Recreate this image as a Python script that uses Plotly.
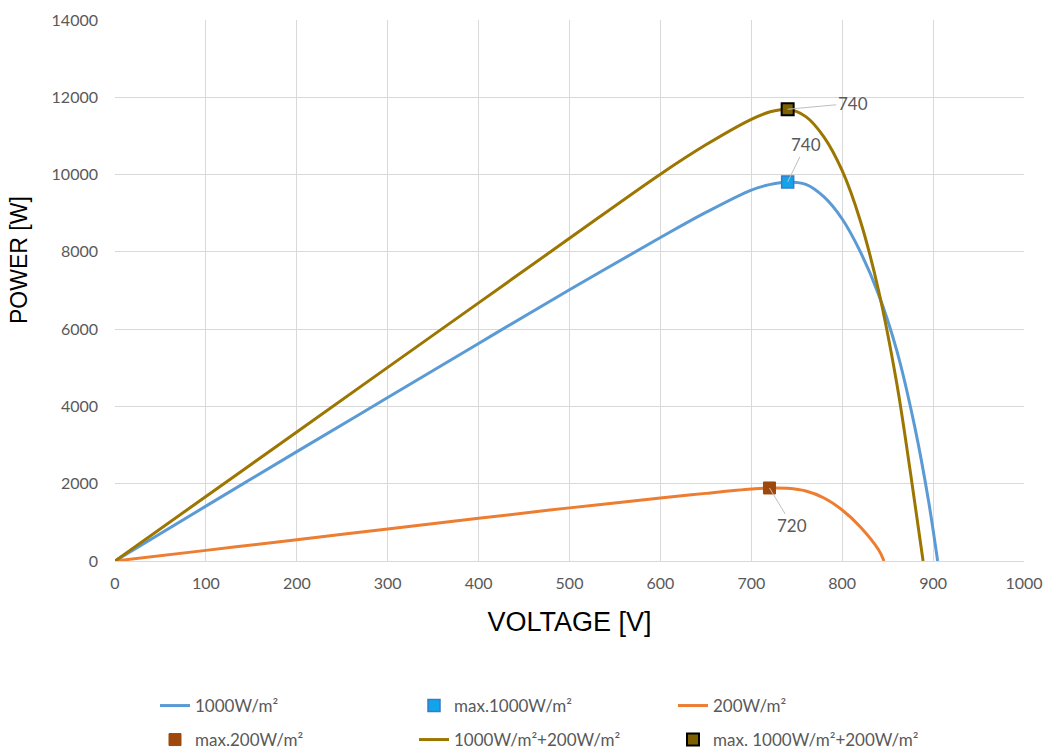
import plotly.graph_objects as go

# ---- data ----
v_1000 = [0, 100, 200, 300, 400, 500, 600, 650, 700, 720, 740, 760, 780, 800, 820, 840, 860, 880, 895, 905]
p_1000 = [0, 1420, 2830, 4230, 5630, 7020, 8370, 9020, 9600, 9740, 9810, 9745, 9420, 8850, 8000, 6900, 5450, 3450, 1550, 0]

v_200 = [0, 100, 200, 300, 400, 500, 600, 650, 700, 720, 740, 760, 780, 800, 820, 840, 846]
p_200 = [0, 275, 550, 830, 1105, 1375, 1630, 1750, 1860, 1890, 1880, 1810, 1630, 1320, 880, 290, 0]

v_sum = [0, 100, 200, 300, 400, 500, 600, 650, 700, 720, 740, 760, 780, 800, 820, 840, 860, 875, 889]
p_sum = [0, 1670, 3340, 5010, 6680, 8350, 10010, 10770, 11430, 11620, 11690, 11500, 10970, 10100, 8800, 7000, 4600, 2300, 0]

max_1000 = (740, 9810)
max_200 = (720, 1890)
max_sum = (740, 11690)

x_ticks = [0, 100, 200, 300, 400, 500, 600, 700, 800, 900, 1000]
y_ticks = [0, 2000, 4000, 6000, 8000, 10000, 12000, 14000]

BLUE = "#5B9BD5"
ORANGE = "#ED7D31"
GOLD = "#9C7600"
TXT = "#595959"
GRID = "#D9D9D9"

fig = go.Figure()

fig.add_trace(go.Scatter(x=v_1000, y=p_1000, mode="lines", name="1000W/m²",
                         line=dict(color=BLUE, width=3, shape="spline", smoothing=1.0),
                         legend="legend", legendrank=1))
fig.add_trace(go.Scatter(x=v_200, y=p_200, mode="lines", name="200W/m²",
                         line=dict(color=ORANGE, width=3, shape="spline", smoothing=1.0),
                         legend="legend", legendrank=3))
fig.add_trace(go.Scatter(x=v_sum, y=p_sum, mode="lines", name="1000W/m²+200W/m²",
                         line=dict(color=GOLD, width=3, shape="spline", smoothing=1.0),
                         legend="legend2", legendrank=2))

fig.add_trace(go.Scatter(x=[max_1000[0]], y=[max_1000[1]], mode="markers", name="max.1000W/m²",
                         marker=dict(symbol="square", size=12, color="#12A4EA",
                                     line=dict(color="#3A78C9", width=1.5)),
                         legend="legend", legendrank=2))
fig.add_trace(go.Scatter(x=[max_200[0]], y=[max_200[1]], mode="markers", name="max.200W/m²",
                         marker=dict(symbol="square", size=12, color="#9E480E",
                                     line=dict(color="#9E480E", width=1)),
                         legend="legend2", legendrank=1))
fig.add_trace(go.Scatter(x=[max_sum[0]], y=[max_sum[1]], mode="markers", name="max. 1000W/m²+200W/m²",
                         marker=dict(symbol="square", size=12, color="#7F6000",
                                     line=dict(color="#000000", width=2)),
                         legend="legend2", legendrank=3))

# data labels (x value of each maximum)
for (px, py), ax, ay in [(max_sum, 65, -6), (max_1000, 18, -37), (max_200, 23, 38)]:
    fig.add_annotation(x=px, y=py, text=str(px), showarrow=True, arrowhead=0,
                       arrowwidth=1, arrowcolor="#BFBFBF", ax=ax, ay=ay, standoff=0,
                       font=dict(family="Lato", size=17, color=TXT))

W, H = 1048, 749
L, R, T, B = 115, 24, 20, 188

# y-axis title (placed like the original, slightly above the axis centre)
fig.add_annotation(text="POWER [W]", xref="paper", yref="paper",
                   x=(19 - L) / (W - L - R), y=(H - B - 260) / (H - B - T),
                   xanchor="center", yanchor="middle", textangle=-90, showarrow=False,
                   font=dict(family="Liberation Sans", size=23, color="black"))

legend_common = dict(orientation="h", xanchor="left", yanchor="middle",
                     xref="container", yref="container",
                     font=dict(family="Lato", size=17, color=TXT),
                     entrywidth=214, entrywidthmode="pixels",
                     bgcolor="rgba(0,0,0,0)", traceorder="normal")

fig.update_layout(
    width=W, height=H,
    margin=dict(l=L, r=R, t=T, b=B, autoexpand=False),
    paper_bgcolor="white", plot_bgcolor="white",
    showlegend=True,
    legend=dict(x=155 / W, y=1 - 706 / H, **legend_common),
    legend2=dict(x=155 / W, y=1 - 740 / H, **legend_common),
    xaxis=dict(range=[0, 1000], tickvals=x_ticks, showgrid=True, gridcolor=GRID, gridwidth=1,
               zeroline=False, showline=True, linecolor=GRID, linewidth=1, mirror=False,
               tickfont=dict(family="Lato", size=16, color=TXT), ticks="", ticklabelstandoff=8,
               title=dict(text="VOLTAGE [V]", font=dict(family="Liberation Sans", size=27, color="black"),
                          standoff=20),
               automargin=False),
    yaxis=dict(range=[0, 14000], tickvals=y_ticks, tickformat="d", showgrid=True, gridcolor=GRID, gridwidth=1,
               zeroline=False, showline=False,
               tickfont=dict(family="Lato", size=16, color=TXT), ticks="", ticklabelstandoff=16,
               automargin=False),
)

fig.write_html("out.html")
